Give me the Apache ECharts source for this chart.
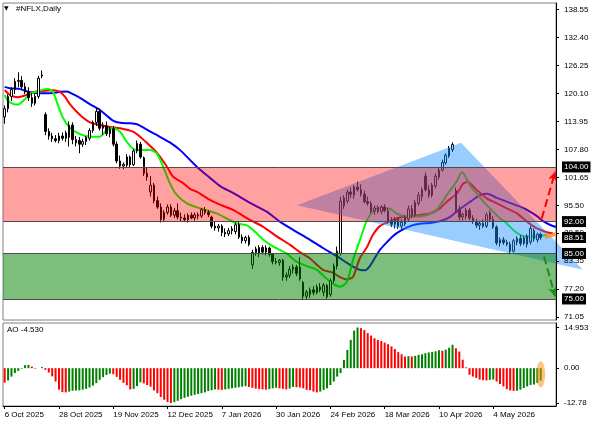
<!DOCTYPE html>
<html>
<head>
<meta charset="utf-8">
<title>#NFLX,Daily</title>
<script src="https://cdn.jsdelivr.net/npm/echarts@6.0.0/dist/echarts.min.js"></script>
<style>
html,body{margin:0;padding:0;background:#fff;}
#chart{width:596px;height:425px;}
</style>
</head>
<body>
<div id="chart"></div>
<script>
// trading days (weekends + exchange holidays skipped), 4 empty slots on the right
let months = ['Jan','Feb','Mar','Apr','May','Jun','Jul','Aug','Sep','Oct','Nov','Dec'];
let holidays = ['2025-11-27','2025-12-25','2026-01-01','2026-01-19','2026-02-16','2026-04-03'];
let dates = [];
for (let d = new Date(Date.UTC(2025, 9, 6)); dates.length < 163; d.setUTCDate(d.getUTCDate() + 1)) {
    let wd = d.getUTCDay();
    if (wd === 0 || wd === 6 || holidays.includes(d.toISOString().slice(0, 10))) continue;
    dates.push(d.getUTCDate() + ' ' + months[d.getUTCMonth()] + ' ' + d.getUTCFullYear());
}

// daily bars: open, high, low, close
let candles = [
    [115.0,117.5,113.5,116.8],[116.8,120.0,116.0,119.5],[119.5,121.5,118.5,121.0],[121.0,123.5,120.0,122.8],
    [122.8,124.8,121.5,123.0],[123.0,124.0,121.0,121.6],[121.6,122.5,120.0,120.5],[120.5,121.5,118.5,119.2],
    [119.2,120.2,117.2,118.0],[118.0,120.0,117.5,119.5],[119.5,124.0,119.0,123.5],[124.0,125.2,123.5,124.2],
    [115.5,116.0,111.0,111.8],[111.8,112.5,110.0,110.8],[110.8,111.5,109.5,110.2],[110.2,111.0,109.4,109.8],
    [109.8,111.5,109.2,110.8],[110.8,111.6,109.8,110.3],[110.3,112.0,109.5,111.5],[110.5,114.0,108.5,113.2],
    [113.2,113.8,109.0,110.0],[110.0,110.8,108.5,109.3],[109.8,110.6,107.0,109.0],[109.0,110.2,108.4,109.6],
    [109.6,110.8,108.8,110.5],[110.3,112.5,109.8,112.0],[112.0,114.2,111.5,113.8],[113.8,117.0,113.0,116.2],
    [116.2,116.8,112.0,112.5],[112.5,113.8,111.0,113.0],[113.0,114.0,110.8,111.3],[111.3,112.8,110.5,112.4],
    [112.4,113.0,108.5,109.0],[109.0,109.6,104.8,105.3],[105.3,106.5,103.6,104.2],[104.2,105.0,103.5,104.6],
    [104.4,106.8,103.8,106.2],[106.2,106.5,104.0,104.5],[104.5,108.0,104.2,107.5],[107.5,109.8,107.0,109.2],
    [109.0,109.5,105.8,106.2],[106.0,106.3,102.0,102.6],[102.6,103.8,101.0,101.8],[98.5,102.0,97.5,100.0],
    [100.0,100.5,96.0,96.6],[96.6,97.5,94.8,95.2],[95.2,96.0,91.8,92.5],[92.5,94.5,92.0,94.0],
    [94.0,95.8,93.5,95.2],[95.2,95.8,93.0,93.4],[93.4,95.0,92.8,94.4],[94.4,96.0,92.5,93.0],
    [93.0,94.0,92.0,92.8],[92.8,93.6,92.0,92.4],[92.4,93.8,91.8,93.4],[93.4,94.0,92.5,92.8],
    [92.8,94.0,92.2,93.5],[93.5,94.0,92.5,93.2],[93.2,95.0,92.8,94.6],[94.6,95.2,93.5,94.0],
    [94.0,94.5,93.0,93.5],[93.0,93.3,90.5,91.0],[91.0,92.0,90.0,90.6],[90.6,91.5,89.8,91.0],
    [91.0,91.4,88.8,89.6],[89.6,90.5,88.6,89.3],[89.3,90.6,88.8,90.0],[90.0,91.0,89.2,90.4],
    [89.8,91.8,89.2,91.3],[91.3,92.0,88.2,88.6],[88.6,89.2,87.2,87.8],[87.8,88.9,87.2,88.5],
    [88.5,89.0,86.6,87.0],[82.5,85.8,81.6,85.2],[85.2,86.5,84.5,86.0],[85.0,86.8,84.2,86.3],
    [86.3,86.8,84.8,85.3],[85.3,86.8,84.6,86.2],[86.2,86.5,84.3,84.8],[84.8,85.0,82.6,83.2],
    [83.2,84.0,82.6,83.0],[83.0,83.8,82.3,83.5],[83.5,83.8,79.0,79.8],[79.8,80.8,79.0,80.2],
    [80.2,82.2,79.6,81.5],[81.5,82.6,80.6,82.0],[82.0,82.5,80.0,80.6],[82.0,84.2,79.0,79.4],
    [78.6,79.0,75.0,75.6],[75.6,77.0,75.0,76.5],[76.0,77.5,75.2,77.0],[77.0,77.8,75.8,76.4],
    [76.4,78.2,76.0,77.6],[77.6,78.5,76.5,77.0],[76.5,78.5,75.6,78.0],[78.0,78.3,75.0,75.5],
    [76.0,79.5,75.5,79.0],[79.0,82.8,78.5,82.2],[82.2,86.5,81.5,85.5],[85.0,97.5,84.5,96.5],
    [95.5,97.8,94.8,97.2],[96.5,99.0,96.0,98.5],[98.5,99.5,97.2,98.0],[97.8,100.0,97.0,99.6],
    [99.6,100.8,98.6,99.0],[99.0,100.2,97.5,98.0],[98.0,98.8,96.0,96.4],[96.4,97.5,95.5,96.0],
    [96.0,96.5,93.8,94.3],[94.3,95.5,93.5,95.0],[95.0,95.6,93.8,94.2],[94.2,95.6,93.6,95.2],
    [95.2,95.8,94.0,94.4],[94.4,95.0,91.5,92.0],[92.0,93.0,90.8,91.4],[91.4,93.0,90.5,92.6],
    [92.6,93.0,90.4,91.0],[91.0,92.5,90.3,91.8],[91.5,93.5,91.0,93.0],[92.5,95.5,92.0,94.8],
    [94.8,95.6,92.8,93.4],[93.4,96.8,93.0,96.2],[96.0,98.5,95.5,97.8],[97.5,99.5,96.5,99.0],
    [102.0,102.8,98.6,99.0],[99.0,100.0,97.2,97.8],[97.8,100.5,97.3,100.0],[99.8,102.6,99.3,102.0],
    [101.8,103.8,101.2,103.3],[103.3,105.6,103.0,105.0],[104.9,107.0,104.5,106.6],[106.4,108.6,106.0,108.1],
    [107.8,109.4,107.3,108.9],[98.8,99.5,94.0,94.5],[94.5,95.5,92.3,93.0],[93.0,94.0,92.2,93.6],
    [93.2,95.0,92.5,94.5],[94.5,95.0,92.3,92.8],[92.8,93.4,91.5,92.0],[92.0,92.6,90.6,91.2],
    [91.2,92.2,90.2,91.6],[91.6,92.5,90.6,91.0],[91.0,94.0,90.6,93.5],[92.5,94.5,92.0,94.0],
    [92.5,93.2,90.4,90.8],[90.8,91.2,86.8,87.3],[87.3,88.5,86.5,88.0],[88.0,88.6,86.9,87.4],
    [87.4,88.0,86.6,87.0],[87.0,87.6,84.8,85.5],[85.5,88.2,85.2,87.8],[87.5,88.8,86.8,88.3],
    [88.3,89.0,86.6,87.2],[87.2,88.8,86.8,88.4],[87.0,89.2,86.3,88.8],[87.5,91.0,87.0,90.5],
    [90.0,90.5,87.6,88.2],[88.0,89.6,87.4,89.2],[89.2,89.6,88.0,88.51]
];

// alligator lines: [bar index, price]
let jaw = [[0,121.6],[1.6,121.3],[4.5,121.1],[7.5,120.4],[10.4,120.2],[13.4,120.2],[16.3,120.5],[18.4,120.6],
    [20.1,120.0],[22.2,119.2],[25.1,117.8],[28.1,116.5],[30.2,115.2],[31.9,114.2],[34,113.7],[36.9,113.6],
    [39,113.4],[40.8,112.7],[42.8,111.8],[44.9,111.0],[46.7,110.2],[48.7,109.4],[51.7,107.7],[56.7,104.0],
    [60.5,101.6],[63.5,99.8],[67.3,98.3],[72.3,96.1],[77.2,94.2],[81.1,92.0],[85,90.2],[90,88.0],
    [93.8,86.2],[97.9,84.4],[101.8,82.5],[104.7,81.4],[106.2,81.3],[107.7,82.3],[109.1,84.0],[110.6,85.8],
    [112.7,87.5],[114.4,88.8],[116.5,89.9],[119.5,91.0],[122.4,91.5],[125.4,91.7],[128.3,92.1],[131.2,93.0],
    [134.2,94.8],[137.1,96.3],[140.1,97.8],[142.2,98.1],[145.1,97.2],[148.9,96.1],[152.8,95.0],[156.9,93.2],
    [158.7,92.1],[160.7,91.3],[162.5,90.8]];
let teeth = [[0,120.9],[1.6,119.8],[3.9,119.3],[6,119.7],[8.3,120.4],[11.3,120.7],[14.2,120.85],[16.3,120.5],
    [17.8,119.4],[19.2,117.8],[22.2,115.4],[25.1,113.8],[28.1,113.2],[31,112.8],[34,112.5],[37.8,111.75],
    [39.9,110.65],[41.9,109.3],[44.9,107.1],[47.8,104.1],[49.6,101.9],[52.5,100.5],[54.6,99.2],[56.7,98.5],
    [60.5,96.75],[62.6,96.0],[67.3,94.55],[72.3,92.35],[76.1,90.9],[80.3,88.7],[84.1,86.9],[87,85.3],
    [90,83.9],[93.8,81.4],[96.7,80.8],[98.8,79.8],[100.9,79.3],[102.7,79.9],[104.7,84.0],[106.8,86.4],
    [108.5,89.05],[110.6,91.0],[113.6,92.1],[116.5,92.9],[119.5,93.1],[122.4,93.45],[125.4,93.8],[128.3,94.9],
    [130.4,96.4],[133.3,98.2],[135.1,100.3],[136.5,100.7],[139.2,98.9],[142.1,97.1],[145.1,96.0],[148,94.9],
    [151,93.8],[153.9,92.0],[156.9,90.5],[159.8,89.65],[161.6,89.4]];
let lips = [[0,119.8],[1,118.5],[2.7,117.8],[3.9,117.7],[6,118.9],[8,120.2],[10.4,120.8],[12.8,121.1],
    [14.2,120.5],[15.7,117.6],[17.2,114.75],[19.2,112.6],[22.2,111.2],[25.1,110.65],[28.1,110.65],[30.1,112.1],
    [31.9,112.5],[34,111.75],[36,109.5],[37.9,107.95],[39.9,107.7],[42.8,107.7],[44.8,107.0],[46.7,104.1],
    [48.7,100.4],[50.7,97.85],[53.7,96.0],[57.6,94.9],[62.5,93.8],[65.4,92.7],[68.4,91.6],[71.3,91.2],
    [74.3,89.4],[76.2,88.0],[79.2,86.5],[83.1,85.0],[86,83.2],[89,82.25],[92,81.4],[95.9,78.8],
    [98.8,77.7],[100.8,78.7],[102.7,83.6],[104.7,88.0],[106.7,92.1],[108.6,94.3],[110.6,95.05],[113.6,94.8],
    [115.5,93.8],[118.5,93.1],[121.4,93.1],[124.4,93.45],[127.3,94.55],[130.3,97.8],[133.2,100.8],[134.8,102.9],
    [137.1,100.0],[139.1,98.2],[141.1,96.4],[143,94.9],[146,92.7],[148,91.6],[149.9,90.15],[151.9,89.1],
    [153.9,88.7],[156.8,88.7],[159.7,89.1]];
let lipsEnd = [[159.2,88.6],[160.8,88.9],[162.4,89.3]];

// Awesome Oscillator, one value per bar
let ao = [-5.3,-4.5,-3.1,-1.8,-1.0,-0.2,1.1,1.2,0.6,-0.2,0.0,0.4,-0.6,-1.6,-3.0,-4.9,
    -7.9,-8.8,-8.9,-8.6,-8.3,-8.2,-8.15,-7.9,-7.6,-7.1,-6.4,-5.5,-4.3,-3.3,-2.5,-2.0,
    -2.2,-3.2,-4.3,-5.4,-6.3,-7.8,-7.6,-6.6,-5.2,-5.6,-6.2,-6.8,-8.2,-9.2,-10.6,-11.6,
    -12.4,-12.78,-12.5,-12.0,-11.4,-10.9,-10.5,-10.1,-9.8,-9.5,-9.2,-8.9,-8.4,-8.1,-7.8,-7.9,
    -8.0,-7.8,-7.6,-7.4,-7.2,-7.0,-6.8,-6.6,-6.9,-7.2,-7.5,-7.7,-7.8,-7.9,-7.7,-7.4,
    -7.2,-7.4,-7.6,-7.8,-7.5,-6.9,-7.0,-7.1,-7.4,-8.0,-8.1,-8.6,-8.9,-8.6,-8.0,-7.4,
    -6.2,-4.9,-3.1,-1.8,3.0,6.7,10.4,13.8,14.953,14.7,14.0,12.9,12.0,11.0,10.4,10.0,
    9.4,8.8,8.0,7.0,5.9,5.1,4.3,4.4,4.3,4.5,4.9,5.1,5.5,5.8,6.0,6.2,
    6.6,6.4,6.8,7.5,8.6,7.3,6.1,3.1,0.3,-2.4,-3.1,-3.6,-4.2,-4.4,-4.5,-4.3,
    -4.2,-4.9,-5.8,-6.7,-7.7,-8.2,-8.35,-8.3,-7.9,-7.3,-6.7,-6.2,-6.0,-5.4,-4.53];

let priceTicks = [138.55,132.40,126.25,120.10,113.95,107.80,101.65,95.50,89.50,83.35,77.20,71.05];
let aoTickValues = [14.953, 0, -12.78];
let aoTickLabels = ['14.953', '0.00', '-12.78'];
let levels = [104, 92, 85, 75];
let lastPrice = 88.51;
let zones = [[92, 104], [75, 85]];
let wedge = [[86.15, 95.6], [134.5, 109.3], [170.4, 81.4]];
let upArrow = [[158.3, 92.7], [162.3, 103.0]];
let downArrow = [[159.0, 84.3], [162.2, 75.6]];

let FONT = 'Liberation Sans';
let zoneColors = ['rgba(255,0,0,0.37)', 'rgba(0,128,0,0.51)'];
let showDate = (i) => i % 16 === 0 && i <= 144;

var myChart = echarts.init(document.getElementById('chart'));

let ohlc = candles.map(c => [c[0], c[3], c[2], c[1]]); // echarts order: open, close, low, high
let aoBars = ao.map((v, i) => ({
    value: v,
    itemStyle: {color: (i > 0 && v > ao[i - 1]) ? '#008000' : '#ff0000'}
}));

option = {
    animation: false,
    backgroundColor: '#fff',
    textStyle: {fontFamily: FONT},
    title: [
        {text: '▼', left: 4, top: 5, padding: 0, textStyle: {fontSize: 6, fontWeight: 'normal', color: '#000', fontFamily: 'DejaVu Sans'}},
        {text: '#NFLX,Daily', left: 16, top: 5, padding: 0, textStyle: {fontSize: 8, fontWeight: 'normal', color: '#000', fontFamily: FONT}},
        {text: 'AO -4.530', left: 7, top: 326, padding: 0, textStyle: {fontSize: 8, fontWeight: 'normal', color: '#000', fontFamily: FONT}}
    ],
    grid: [
        {left: 3, right: 40, top: 3, height: 317, show: true, borderColor: '#808080', borderWidth: 1},
        {left: 3, right: 40, top: 323, height: 83, show: true, borderColor: '#808080', borderWidth: 1}
    ],
    xAxis: [
        {type: 'category', gridIndex: 0, data: dates, boundaryGap: true,
            axisLine: {show: false, onZero: false}, axisTick: {show: false}, axisLabel: {show: false}},
        {type: 'value', gridIndex: 0, min: -0.5, max: 162.5, show: false, axisLine: {onZero: false}},
        {type: 'category', gridIndex: 1, data: dates, boundaryGap: true,
            axisLine: {show: true, onZero: false, lineStyle: {color: '#000', width: 1}},
            axisTick: {show: true, interval: showDate, alignWithLabel: true, length: 3, lineStyle: {color: '#000'}},
            axisLabel: {interval: showDate, align: 'left', fontSize: 8, color: '#000', margin: 5, fontFamily: FONT}}
    ],
    yAxis: [
        {type: 'value', gridIndex: 0, position: 'right', min: 70.38, max: 140.02, z: 6,
            axisLine: {show: true, onZero: false, lineStyle: {color: '#000'}},
            axisTick: {show: true, customValues: priceTicks, length: 3, lineStyle: {color: '#000'}},
            axisLabel: {customValues: priceTicks, formatter: v => v.toFixed(2), fontSize: 8, color: '#000', margin: 8, fontFamily: FONT},
            splitLine: {show: false}},
        {type: 'value', gridIndex: 1, position: 'right', min: -13.9, max: 16.6,
            axisLine: {show: true, onZero: false, lineStyle: {color: '#000'}},
            axisTick: {show: true, customValues: aoTickValues, length: 3, lineStyle: {color: '#000'}},
            axisLabel: {customValues: aoTickValues, fontSize: 8, color: '#000', margin: 8, fontFamily: FONT,
                formatter: v => {
                    let k = aoTickValues.findIndex(t => Math.abs(t - v) < 1e-6);
                    return k >= 0 ? aoTickLabels[k] : '';
                }},
            splitLine: {show: false}}
    ],
    series: [
        {type: 'candlestick', xAxisIndex: 0, yAxisIndex: 0, data: ohlc, barWidth: 2, z: 2,
            itemStyle: {color: '#ffffff', color0: '#000000', borderColor: '#000000', borderColor0: '#000000', borderWidth: 1}},
        {type: 'line', xAxisIndex: 1, yAxisIndex: 0, data: jaw, symbol: 'none', smooth: 0.25, z: 2,
            lineStyle: {color: '#0000ff', width: 2}},
        {type: 'line', xAxisIndex: 1, yAxisIndex: 0, data: teeth, symbol: 'none', smooth: 0.25, z: 2,
            lineStyle: {color: '#ff0000', width: 2}},
        {type: 'line', xAxisIndex: 1, yAxisIndex: 0, data: lips, symbol: 'none', smooth: 0.25, z: 2,
            lineStyle: {color: '#00ff00', width: 2}},
        // broadening wedge drawn over the bars
        {type: 'custom', xAxisIndex: 1, yAxisIndex: 0, z: 3, silent: true, clip: false,
            data: [[0, 0]],
            renderItem: (params, api) => ({
                type: 'polygon',
                shape: {points: wedge.map(p => api.coord(p))},
                style: {fill: 'rgba(30,144,255,0.45)'}
            })},
        // resistance / support zones
        {type: 'custom', xAxisIndex: 1, yAxisIndex: 0, z: 4, silent: true,
            data: zones,
            renderItem: (params, api) => {
                let cs = params.coordSys;
                let top = api.coord([0, api.value(1)])[1];
                let bot = api.coord([0, api.value(0)])[1];
                return {type: 'rect', shape: {x: cs.x, y: top, width: cs.width, height: bot - top},
                    style: {fill: zoneColors[params.dataIndex]}};
            }},
        {type: 'line', xAxisIndex: 1, yAxisIndex: 0, data: lipsEnd, symbol: 'none', smooth: true, z: 5,
            lineStyle: {color: 'rgba(255,140,0,0.75)', width: 4}},
        // forecast arrows
        {type: 'line', xAxisIndex: 1, yAxisIndex: 0, data: [], z: 5, clip: false,
            markLine: {silent: true, animation: false, symbol: ['none', 'arrow'], symbolSize: [7, 9],
                label: {show: false},
                lineStyle: {type: 'dashed', width: 2},
                data: [
                    [{coord: upArrow[0], lineStyle: {color: '#ff0000'}, itemStyle: {color: '#ff0000'}}, {coord: upArrow[1]}],
                    [{coord: downArrow[0], lineStyle: {color: '#1a8c1a'}, itemStyle: {color: '#1a8c1a'}}, {coord: downArrow[1]}]
                ]}},
        // price levels with their scale tags
        {type: 'line', xAxisIndex: 1, yAxisIndex: 0, data: [], z: 7, clip: false,
            markLine: {silent: true, animation: false, symbol: 'none',
                lineStyle: {color: '#4d4d4d', width: 1, type: 'solid'},
                label: {position: 'end', distance: 6, color: '#fff', backgroundColor: '#000',
                    fontSize: 8, fontFamily: FONT, padding: [2, 2, 1, 2],
                    formatter: p => Number(p.value).toFixed(2)},
                data: levels.map(v => ({yAxis: v})).concat([{yAxis: lastPrice, lineStyle: {color: 'rgba(0,0,0,0)', width: 0}}])
            }},
        {type: 'bar', xAxisIndex: 2, yAxisIndex: 1, data: aoBars, barWidth: 2,
            markPoint: {silent: true, animation: false, symbol: 'circle', symbolSize: [9, 26],
                itemStyle: {color: 'rgba(255,140,0,0.5)'}, label: {show: false},
                data: [{coord: [158, -2.27]}]}}
    ]
};

myChart.setOption(option);
</script>
</body>
</html>
